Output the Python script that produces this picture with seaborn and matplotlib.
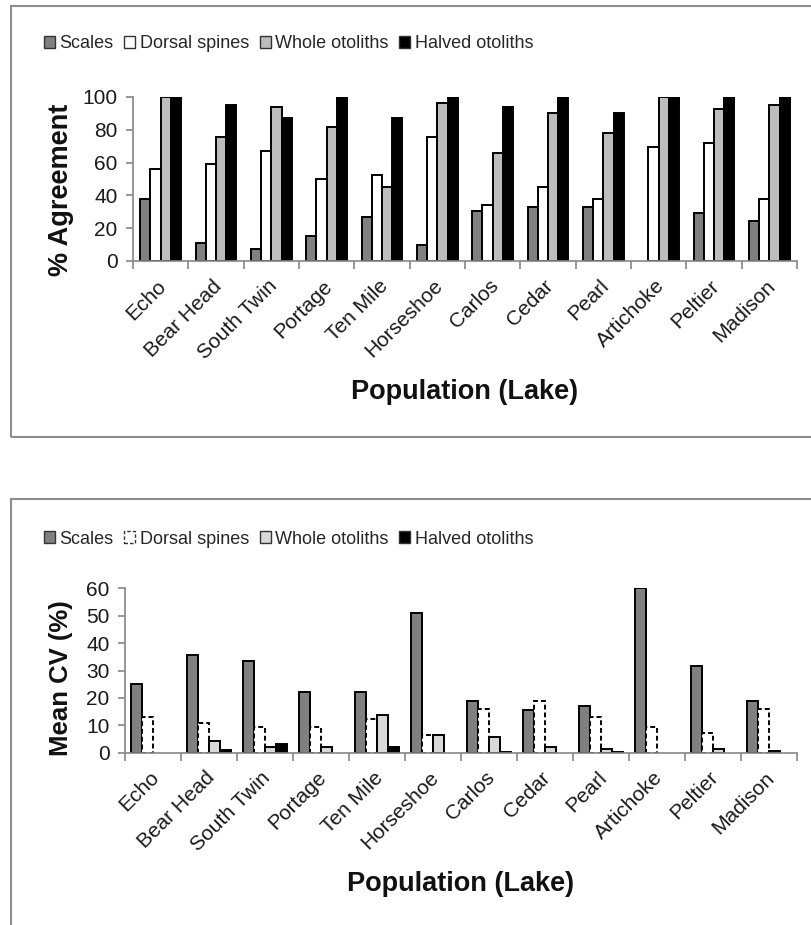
import numpy as np
import pandas as pd
import seaborn as sns
import matplotlib.pyplot as plt
from matplotlib.patches import Patch, Rectangle
from matplotlib.transforms import ScaledTranslation

sns.set_theme(style="white")
plt.rcParams['font.family'] = ['Liberation Sans', 'DejaVu Sans']

lakes = ['Echo', 'Bear Head', 'South Twin', 'Portage', 'Ten Mile', 'Horseshoe',
         'Carlos', 'Cedar', 'Pearl', 'Artichoke', 'Peltier', 'Madison']
methods = ['Scales', 'Dorsal spines', 'Whole otoliths', 'Halved otoliths']

## % agreement
agree_scales = [38, 11, 7.5, 15, 27, 10, 30.5, 33, 33, 0, 29.5, 24.5]
agree_spines = [56, 59, 67, 50, 52.5, 75.5, 34, 45, 38, 69.5, 72, 38]
agree_whole = [100, 75.5, 94, 81.5, 45, 96.5, 66, 90, 78, 100, 92.5, 95]
agree_halved = [100, 95, 87, 100, 87, 100, 94, 100, 90.5, 100, 100, 100]

## mean CV (%)
cv_scales = [25, 35.5, 33.5, 22, 22, 51, 19, 15.5, 17, 60, 31.5, 19]
cv_spines = [13, 11, 9.5, 9.5, 12.2, 6.6, 16, 19, 13, 9.5, 7.3, 16]
cv_whole = [0, 4.4, 2, 2, 13.8, 6.6, 5.8, 2.2, 1.3, 0, 1.3, 0.6]
cv_halved = [0, 0.9, 3, 0, 2.2, 0, 0.3, 0, 0.3, 0, 0, 0]

top_colors = ['#808080', '#ffffff', '#bdbdbd', '#000000']
bot_colors = ['#808080', '#ffffff', '#d9d9d9', '#000000']

fig = plt.figure(figsize=(8.11, 9.25), dpi=100)
ax1 = fig.add_axes([133/811, 1-261/925, 664/811, 164/925])
ax2 = fig.add_axes([125/811, 1-752.7/925, 672/811, 164.4/925])

axis_grey = '#868686'
dash = (0, (2.5, 1.5))


def draw(ax, vals, colors, ymax, step, ylabel, ylab_xy, ylab_size, width, dashed):
    df = pd.DataFrame(dict(zip(methods, vals)), index=lakes).reset_index(names='Lake')
    long = df.melt(id_vars='Lake', var_name='Method', value_name='Value')
    sns.barplot(data=long, x='Lake', y='Value', hue='Method', hue_order=methods,
                palette=dict(zip(methods, colors)), saturation=1, width=width,
                edgecolor='black', linewidth=1.4, legend=False, ax=ax)
    for i, cont in enumerate(ax.containers):
        for bar in cont:
            if bar.get_height() == 0:
                bar.set_linewidth(0)
            elif dashed and i == 1:
                bar.set_linestyle(dash)
    ax.set_xlim(-0.5, 11.5)
    ax.set_ylim(0, ymax)
    ax.set_yticks(range(0, ymax + 1, step))
    for s in ['top', 'right']:
        ax.spines[s].set_visible(False)
    for s in ['left', 'bottom']:
        ax.spines[s].set_color(axis_grey)
        ax.spines[s].set_linewidth(1.2)
    ax.tick_params(axis='y', left=True, length=5, width=1.2, color=axis_grey,
                   labelsize=15, labelcolor='#1a1a1a', pad=6)
    ax.set_xticks(np.arange(-0.5, 12, 1), minor=True)
    ax.tick_params(axis='x', which='minor', bottom=True, length=6, width=1.2, color=axis_grey)
    ax.set_xticks(range(len(lakes)))
    ax.set_xticklabels(lakes, rotation=45, ha='right', va='top', rotation_mode='anchor')
    ax.tick_params(axis='x', which='major', length=0, pad=11, labelsize=15, labelcolor='#1a1a1a')
    for lab in ax.get_xticklabels():
        lab.set_transform(lab.get_transform() + ScaledTranslation(-4/100, 0, fig.dpi_scale_trans))
    ax.set_xlabel('Population (Lake)', fontsize=19.5, fontweight='bold', color='#111')
    ax.xaxis.set_label_coords(0.5, -0.80)
    ax.xaxis.label.set_va('center')
    ax.set_ylabel(ylabel, fontsize=ylab_size, fontweight='bold', color='#111')
    ax.yaxis.set_label_coords(*ylab_xy)
    ax.yaxis.label.set_va('center')


draw(ax1, [agree_scales, agree_spines, agree_whole, agree_halved], top_colors,
     100, 20, '% Agreement', (-0.108, 0.433), 19.5, 0.74, False)
draw(ax2, [cv_scales, cv_spines, cv_whole, cv_halved], bot_colors,
     60, 10, 'Mean CV (%)', (-0.095, 0.451), 18.5, 0.8, True)

## legends
for colors, ypix, dashed in [(top_colors, 44, False), (bot_colors, 539, True)]:
    handles = [Patch(facecolor=c, edgecolor='#333333', linewidth=1,
                     linestyle=dash if (dashed and i == 1) else '-')
               for i, c in enumerate(colors)]
    fig.legend(handles, methods, loc='center left', bbox_to_anchor=(44/811, 1-ypix/925),
               ncol=4, frameon=False, prop={'size': 13},
               handlelength=0.6, handleheight=0.6, handletextpad=0.25,
               columnspacing=0.6, borderaxespad=0, borderpad=0)

## panel frames
fig.add_artist(Rectangle((11/811, 1-437/925), 1.0, 431/925, transform=fig.transFigure,
                         fill=False, edgecolor='#8c8c8c', linewidth=1.5))
fig.add_artist(Rectangle((11/811, -0.05), 1.0, 0.05 + (1-499/925), transform=fig.transFigure,
                         fill=False, edgecolor='#8c8c8c', linewidth=1.5))

fig.savefig('out.png', dpi=100)
